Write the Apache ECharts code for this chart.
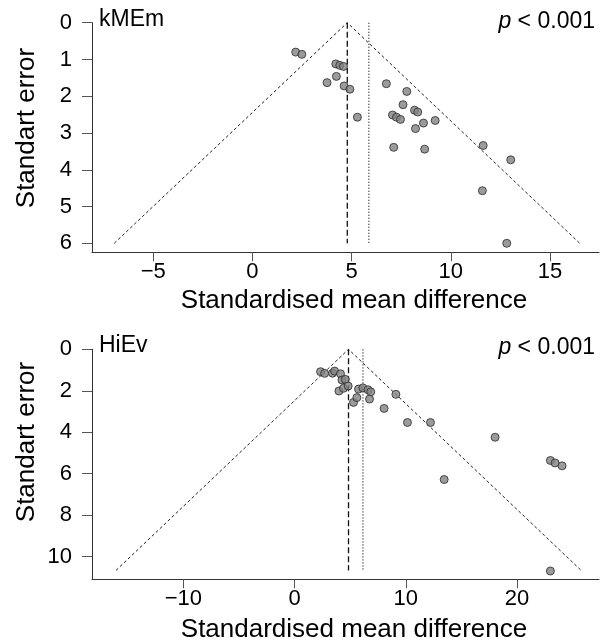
<!DOCTYPE html>
<html>
<head>
<meta charset="utf-8">
<script src="https://cdn.jsdelivr.net/npm/echarts@6/dist/echarts.min.js"></script>
<style>
html,body{margin:0;padding:0;background:#fff;}
#chart{width:608px;height:643px;}
</style>
</head>
<body>
<div id="chart"></div>
<script>
// ---------- Data ----------
const panelNames = ['kMEm', 'HiEv'];
const pLabels = ['< 0.001', '< 0.001'];

// Top panel (kMEm)
const topSMD = [2.18,2.49,4.20,4.40,4.59,4.23,3.76,4.62,4.91,5.29,6.75,7.78,7.59,8.17,8.33,7.06,7.26,7.46,9.21,8.62,8.22,7.12,8.68,11.63,13.02,11.59,12.82];
const topSE  = [0.80,0.86,1.12,1.16,1.19,1.46,1.63,1.72,1.81,2.57,1.66,1.87,2.23,2.38,2.43,2.51,2.57,2.63,2.66,2.73,2.88,3.39,3.44,3.34,3.73,4.57,6.00];
const topFunnelX  = [-6.97, 4.78, 16.50];
const topFunnelSE = [6.0, 0, 6.0];
const topMeanX  = [4.78, 4.78];
const topMeanSE = [0, 6.0];
const topAltX   = [5.87, 5.87];
const topAltSE  = [0, 6.0];
const topXTicks = [-5, 0, 5, 10, 15];
const topYTicks = [0, 1, 2, 3, 4, 5, 6];

// Bottom panel (HiEv)
const botSMD = [2.34,2.70,3.41,3.60,4.13,4.26,4.56,3.99,4.40,4.82,5.30,5.60,5.75,6.14,6.60,6.85,6.74,8.05,9.11,10.15,12.22,18.03,13.45,23.00,23.42,24.05,23.00];
const botSE  = [1.08,1.16,1.15,1.05,1.18,1.48,1.45,2.01,1.88,1.77,2.56,2.33,1.92,1.86,1.95,2.05,2.40,2.85,2.17,3.53,3.53,4.24,6.28,5.36,5.48,5.62,10.69];
const botFunnelX  = [-16.05, 4.85, 25.76];
const botFunnelSE = [10.66, 0, 10.66];
const botMeanX  = [4.85, 4.85];
const botMeanSE = [0, 10.66];
const botAltX   = [6.15, 6.15];
const botAltSE  = [0, 10.66];
const botXTicks = [-10, 0, 10, 20];
const botYTicks = [0, 2, 4, 6, 8, 10];

const xName = 'Standardised mean difference';
const yName = 'Standart error';

// ---------- Build ----------
const FONT = '"Liberation Sans", Arial, Helvetica, sans-serif';
const zip = (a, b) => a.map((v, i) => [v, b[i]]);
const fmt = v => String(v).replace('-', '\u2212');

function xAxis(gi, min, max, ticks) {
  return {
    type: 'value', gridIndex: gi, min: min, max: max,
    splitLine: {show: false},
    axisLine: {show: true, onZero: false, lineStyle: {color: '#333', width: 1}},
    axisTick: {show: true, length: 9, customValues: ticks, lineStyle: {color: '#555'}},
    axisLabel: {customValues: ticks, formatter: fmt, fontSize: 22, color: '#000', fontFamily: FONT, margin: 9},
    minorTick: {show: false}
  };
}
function yAxis(gi, max, ticks) {
  return {
    type: 'value', gridIndex: gi, min: 0, max: max, inverse: true,
    splitLine: {show: false},
    axisLine: {show: true, onZero: false, lineStyle: {color: '#333', width: 1}},
    axisTick: {show: true, length: 10, customValues: ticks, lineStyle: {color: '#555'}},
    axisLabel: {customValues: ticks, formatter: fmt, fontSize: 22, color: '#000', fontFamily: FONT, margin: 20}
  };
}
function lineSeries(gi, xs, ys, dash, width, color) {
  return {
    type: 'line', xAxisIndex: gi, yAxisIndex: gi, data: zip(xs, ys),
    symbol: 'none', silent: true, animation: false, z: 1,
    lineStyle: {color: color, width: width, type: dash}
  };
}
function scatter(gi, xs, ys) {
  return {
    type: 'scatter', xAxisIndex: gi, yAxisIndex: gi, data: zip(xs, ys),
    symbol: 'circle', symbolSize: 8, animation: false, z: 3,
    itemStyle: {color: '#828282', borderColor: '#2a2a2a', borderWidth: 1}
  };
}

const option = {
  backgroundColor: '#fff',
  animation: false,
  grid: [
    {left: 92, top: 22.7, width: 507, height: 229.6},
    {left: 92, top: 349.3, width: 507, height: 230}
  ],
  xAxis: [xAxis(0, -8.09, 17.47, topXTicks), xAxis(1, -18.21, 27.37, botXTicks)],
  yAxis: [yAxis(0, 6.245, topYTicks), yAxis(1, 11.09, botYTicks)],
  series: [
    lineSeries(0, topFunnelX, topFunnelSE, [3, 2.5], 1, '#222'),
    lineSeries(0, topMeanX, topMeanSE, [6, 3], 1.3, '#111'),
    lineSeries(0, topAltX, topAltSE, [1.2, 1.8], 1, '#111'),
    scatter(0, topSMD, topSE),
    lineSeries(1, botFunnelX, botFunnelSE, [3, 2.5], 1, '#222'),
    lineSeries(1, botMeanX, botMeanSE, [6, 3], 1.3, '#111'),
    lineSeries(1, botAltX, botAltSE, [1.2, 1.8], 1, '#111'),
    scatter(1, botSMD, botSE)
  ],
  graphic: [
    {type: 'text', x: 99, y: 20, style: {text: panelNames[0], font: '23px ' + FONT, fill: '#000', textAlign: 'left', textVerticalAlign: 'middle'}},
    {type: 'text', x: 99, y: 346, style: {text: panelNames[1], font: '23px ' + FONT, fill: '#000', textAlign: 'left', textVerticalAlign: 'middle'}},
    {type: 'text', x: 595, y: 22, style: {
      text: '{i|p} ' + pLabels[0], textAlign: 'right', textVerticalAlign: 'middle',
      font: '23px ' + FONT, fill: '#000',
      rich: {i: {fontStyle: 'italic', fontSize: 23, fontFamily: FONT, fill: '#000'}}
    }},
    {type: 'text', x: 595, y: 348, style: {
      text: '{i|p} ' + pLabels[1], textAlign: 'right', textVerticalAlign: 'middle',
      font: '23px ' + FONT, fill: '#000',
      rich: {i: {fontStyle: 'italic', fontSize: 23, fontFamily: FONT, fill: '#000'}}
    }},
    {type: 'text', x: 354, y: 301, style: {text: xName, font: '26px ' + FONT, fill: '#000', textAlign: 'center', textVerticalAlign: 'middle'}},
    {type: 'text', x: 354, y: 630, style: {text: xName, font: '26px ' + FONT, fill: '#000', textAlign: 'center', textVerticalAlign: 'middle'}},
    {type: 'text', x: 27, y: 128, rotation: Math.PI / 2, style: {text: yName, font: '26px ' + FONT, fill: '#000', textAlign: 'center', textVerticalAlign: 'middle'}},
    {type: 'text', x: 27, y: 442, rotation: Math.PI / 2, style: {text: yName, font: '26px ' + FONT, fill: '#000', textAlign: 'center', textVerticalAlign: 'middle'}}
  ]
};

const chart = echarts.init(document.getElementById('chart'), null, {renderer: 'canvas'});
chart.setOption(option);
</script>
</body>
</html>
